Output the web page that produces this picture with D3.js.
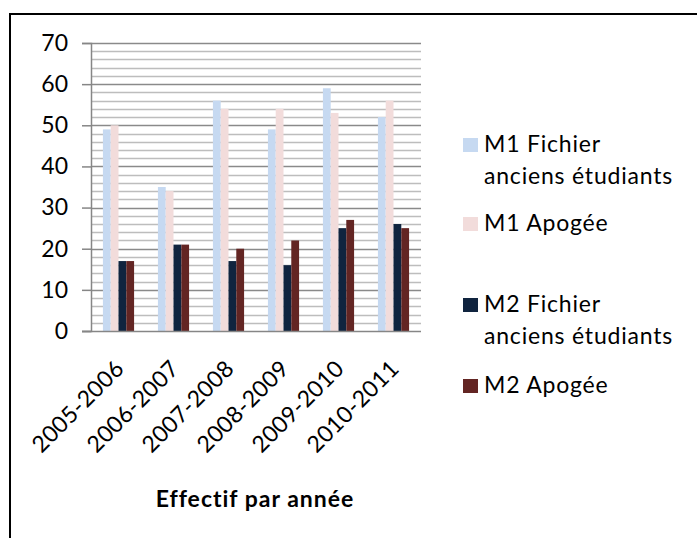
<!DOCTYPE html>
<html>
<head>
<meta charset="utf-8">
<script src="https://cdn.jsdelivr.net/npm/d3@7"></script>
<style>
  body { margin: 0; background: #fff; }
  text { font-family: Lato, "Noto Sans", sans-serif; fill: #000; }
</style>
</head>
<body>
<div id="chart"></div>
<script>
// Data
var years = ["2005-2006", "2006-2007", "2007-2008", "2008-2009", "2009-2010", "2010-2011"];
var seriesNames = ["M1 Fichier anciens étudiants", "M1 Apogée", "M2 Fichier anciens étudiants", "M2 Apogée"];
var m1Fichier = [49, 35, 56, 49, 59, 52];
var m1Apogee = [50, 34, 54, 54, 53, 56];
var m2Fichier = [17, 21, 17, 16, 25, 26];
var m2Apogee = [17, 21, 20, 22, 27, 25];
var yTicks = [0, 10, 20, 30, 40, 50, 60, 70];

var colors = ["#c6d9f1", "#f2dcdb", "#10243f", "#632523"];
var seriesValues = [m1Fichier, m1Apogee, m2Fichier, m2Apogee];

var svgWidth = 697, svgHeight = 538;
var margin = { top: 43, left: 91, right: 276, bottom: 207 };
var width = svgWidth - margin.left - margin.right;
var height = svgHeight - margin.top - margin.bottom;

var svg = d3.select("#chart").append("svg")
    .attr("width", svgWidth)
    .attr("height", svgHeight);

// outer frame
svg.append("rect")
    .attr("x", 10).attr("y", 14)
    .attr("width", 700).attr("height", 540)
    .attr("fill", "none")
    .attr("stroke", "#000")
    .attr("stroke-width", 2);

var chartGroup = svg.append("g")
    .attr("transform", `translate(${margin.left}, ${margin.top})`);

var yScale = d3.scaleLinear().domain([0, 70]).range([height, 0]);
var x0 = d3.scaleBand().domain(years).range([0, width]).padding(0);
var x1 = d3.scaleBand().domain(d3.range(4)).range([0, x0.bandwidth()])
    .paddingInner(0).paddingOuter(1.53);

// minor gridlines
chartGroup.append("g")
    .selectAll("line")
    .data(d3.range(0, 71, 2).filter(v => v % 10 !== 0))
    .enter().append("line")
    .attr("x1", 0).attr("x2", width)
    .attr("y1", d => Math.round(yScale(d)) + 0.5)
    .attr("y2", d => Math.round(yScale(d)) + 0.5)
    .attr("stroke", "#bdbdbd")
    .attr("stroke-width", 1.3);

// major gridlines
chartGroup.append("g")
    .selectAll("line")
    .data(yTicks.filter(v => v > 0))
    .enter().append("line")
    .attr("x1", 0).attr("x2", width)
    .attr("y1", d => Math.round(yScale(d)) + 0.5)
    .attr("y2", d => Math.round(yScale(d)) + 0.5)
    .attr("stroke", "#8a8a8a")
    .attr("stroke-width", 1.3);

// bars
var groups = chartGroup.selectAll(".year")
    .data(years)
    .enter().append("g")
    .attr("transform", d => `translate(${x0(d)}, 0)`);

groups.selectAll("rect")
    .data((d, i) => seriesValues.map((s, k) => ({ k: k, v: s[i] })))
    .enter().append("rect")
    .attr("x", d => x1(d.k))
    .attr("y", d => yScale(d.v))
    .attr("width", x1.bandwidth())
    .attr("height", d => height - yScale(d.v))
    .attr("fill", d => colors[d.k]);

// y axis
var leftAxis = d3.axisLeft(yScale).tickValues(yTicks).tickSize(9).tickPadding(14);
var yAxisG = chartGroup.append("g").call(leftAxis);
yAxisG.select(".domain").attr("stroke", "#868686").attr("stroke-width", 1.5);
yAxisG.selectAll(".tick line").attr("stroke", "#868686").attr("stroke-width", 1.5);
yAxisG.selectAll("text")
    .style("font-size", "23px")
    .style("font-family", "Lato, sans-serif")
    .attr("fill", "#000");

// x axis
var bottomAxis = d3.axisBottom(x0).tickSize(0).tickPadding(0);
var xAxisG = chartGroup.append("g")
    .attr("transform", `translate(0, ${height})`)
    .call(bottomAxis);
xAxisG.select(".domain").attr("stroke", "#868686").attr("stroke-width", 1.5)
    .attr("d", `M-9,0.5H${width}`);
xAxisG.selectAll("text")
    .style("font-size", "23px")
    .style("font-family", "Lato, sans-serif")
    .style("letter-spacing", "0.4px")
    .attr("fill", "#000")
    .attr("text-anchor", "end")
    .attr("dy", null)
    .attr("y", 0)
    .attr("transform", "translate(7, 39) rotate(-45)");

// axis title
svg.append("text")
    .attr("x", 255).attr("y", 507)
    .attr("text-anchor", "middle")
    .style("font-size", "23px")
    .style("font-weight", "bold")
    .style("letter-spacing", "1px")
    .text("Effectif par année");

// legend
var legendRows = [
    { k: 0, lines: ["M1 Fichier", "anciens étudiants"], y: 152 },
    { k: 1, lines: ["M1 Apogée"], y: 231 },
    { k: 2, lines: ["M2 Fichier", "anciens étudiants"], y: 312 },
    { k: 3, lines: ["M2 Apogée"], y: 393 }
];
var legend = svg.append("g");
legendRows.forEach(function(row) {
    legend.append("rect")
        .attr("x", 463).attr("y", row.y - 14)
        .attr("width", 15).attr("height", 14)
        .attr("fill", colors[row.k]);
    row.lines.forEach(function(line, j) {
        legend.append("text")
            .attr("x", 484).attr("y", row.y + j * 32)
            .style("font-size", "23px")
            .style("letter-spacing", "0.8px")
            .text(line);
    });
});
</script>
</body>
</html>
